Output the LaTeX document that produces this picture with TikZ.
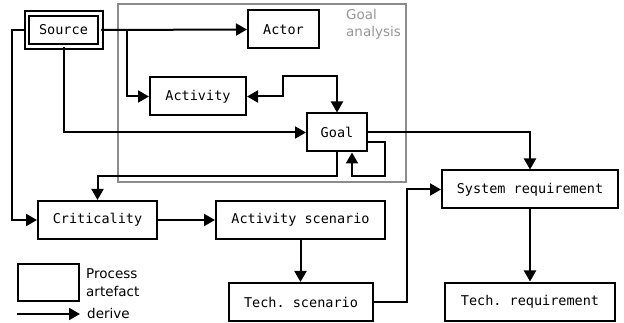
\documentclass[tikz,border=0pt]{standalone}
\usepackage{fontspec}
\setmainfont{DejaVu Sans}
\setsansfont{DejaVu Sans}
\setmonofont{DejaVu Sans Mono}
\usepackage{tikz}
\usetikzlibrary{arrows.meta, positioning, calc}
\definecolor{framegray}{RGB}{140,140,140}
\definecolor{labelgray}{RGB}{150,150,150}

\begin{document}
\begin{tikzpicture}[x=1pt, y=-1pt,
    artefact/.style={draw, line width=2pt, minimum height=38pt, inner sep=0pt,
        font=\fontsize{13.5}{16}\selectfont\ttfamily},
    derive/.style={line width=2pt, -{Triangle[length=11pt, width=12pt]}},
    legendtext/.style={inner sep=0pt, align=left, font=\fontsize{13.5}{17.5}\selectfont}]
        \useasboundingbox (0,0) rectangle (624,323);

        % Goal analysis frame
        \node[draw=framegray, line width=2pt, minimum width=288pt, minimum height=178pt,
            inner sep=0pt] (ganalysis) at (262,93) {};
        \node[legendtext, labelgray, anchor=north west, font=\fontsize{13.5}{17}\selectfont]
            (ganalysislabel) at (346,9.5) {Goal\\analysis};

        % Artefacts
        \node[artefact, double, double distance=2.5pt, minimum width=73.5pt, minimum height=33pt]
            (source) at (63.5,30) {Source};
        \node[artefact, minimum width=71pt] (actor) at (283.5,29.5) {Actor};
        \node[artefact, minimum width=96pt] (activity) at (198,96.5) {Activity};
        \node[artefact, minimum width=60pt] (goal) at (337,132.5) {Goal};
        \node[artefact, minimum width=119pt] (criticality) at (97.5,220) {Criticality};
        \node[artefact, minimum width=169pt] (actscen) at (300.5,220) {Activity scenario};
        \node[artefact, minimum width=144pt] (techscen) at (301,302) {Tech. scenario};
        \node[artefact, minimum width=176pt] (sysreq) at (530,189.5) {System requirement};
        \node[artefact, minimum width=170pt] (techreq) at (530,301.5) {Tech. requirement};

        % Derivations
        \coordinate (srcfork) at (127,30);
        \draw[derive] (source.east) -- (actor.west);
        \draw[derive] (srcfork) |- (activity.west);
        \draw[derive] (source.south) |- (goal.west);
        \draw[derive] (source.west) -- ++(-14,0) |- (criticality.west);
        \draw[derive, {Triangle[length=11pt, width=12pt]}-{Triangle[length=11pt, width=12pt]}]
            (activity.east) -| (283,76) -| (goal.north);
        \draw[derive] (goal.south) -- ++(0,24) -| (criticality.north);
        \draw[derive] ($(goal.south east)+(0,-10)$) -- ++(17,0) -- ++(0,34) -| ($(goal.south)+(15,0)$);
        \draw[derive] (goal.east) -| (sysreq.north);
        \draw[derive] (criticality.east) -- (actscen.west);
        \draw[derive] (actscen.south) -- (actscen.south |- techscen.north);
        \draw[derive] (techscen.east) -- ++(33,0) |- (sysreq.west);
        \draw[derive] (sysreq.south) -- (techreq.north);

        % Legend
        \node[artefact, minimum width=61pt, minimum height=37pt] (legbox) at (48.5,282.5) {};
        \node[legendtext, anchor=north west] (legboxtext) at (86,268.5) {Process\\artefact};
        \coordinate (legfrom) at (17,314);
        \coordinate (legto) at (80,314);
        \draw[derive] (legfrom) -- (legto);
        \node[legendtext, anchor=base west] (legarrowtext) at (87,318) {derive};
    \end{tikzpicture}
\end{document}
